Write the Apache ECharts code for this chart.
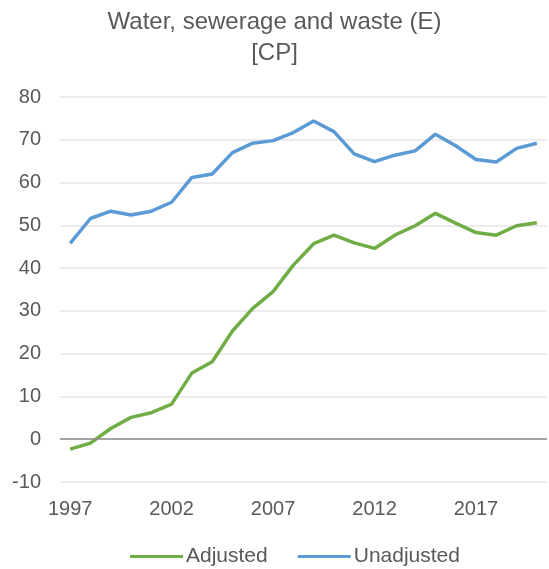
<!DOCTYPE html>
<html>
<head>
<meta charset="utf-8">
<script src="https://cdn.jsdelivr.net/npm/echarts@6/dist/echarts.min.js"></script>
<style>
  html, body { margin: 0; padding: 0; background: #fff; }
  #chart { width: 549px; height: 569px; }
</style>
</head>
<body>
<div id="chart"></div>
<script>
// years 1997..2020
const years = [];
for (let y = 1997; y <= 2020; y++) years.push(String(y));

const adjusted = [-2.3, -0.9, 2.5, 5.1, 6.2, 8.2, 15.5, 18.1, 25.3, 30.6, 34.5, 40.7,
  45.7, 47.7, 45.9, 44.6, 47.7, 49.9, 52.8, 50.5, 48.3, 47.7, 49.9, 50.6];
const unadjusted = [45.8, 51.6, 53.3, 52.4, 53.3, 55.4, 61.2, 62.0, 67.0, 69.2, 69.8, 71.7,
  74.4, 71.9, 66.7, 64.9, 66.4, 67.4, 71.3, 68.6, 65.4, 64.8, 68.0, 69.2];

const font = "Liberation Sans, Arial, sans-serif";
const textColor = "#595959";

const chart = echarts.init(document.getElementById("chart"));
chart.setOption({
  animation: false,
  title: {
    text: "Water, sewerage and waste (E)\n[CP]",
    left: "center",
    top: 2,
    textStyle: {
      fontFamily: font,
      fontSize: 24,
      fontWeight: "normal",
      color: textColor,
      lineHeight: 31,
    },
  },
  legend: {
    top: 541,
    left: 125,
    itemWidth: 53,
    itemHeight: 3,
    itemGap: 30,
    icon: "rect",
    textStyle: { fontFamily: font, fontSize: 21, color: textColor, padding: [0, 0, 0, -2] },
    data: ["Adjusted", "Unadjusted"],
  },
  grid: { left: 60, right: 2, top: 97, bottom: 87, containLabel: false },
  xAxis: {
    type: "category",
    data: years,
    boundaryGap: true,
    axisLine: { show: false },
    axisTick: { show: false },
    axisLabel: {
      interval: 4,
      margin: 17,
      fontFamily: font,
      fontSize: 20,
      color: textColor,
    },
    splitLine: { show: false },
  },
  yAxis: {
    type: "value",
    min: -10,
    max: 80,
    interval: 10,
    axisLine: { show: false },
    axisTick: { show: false },
    axisLabel: { margin: 19, fontFamily: font, fontSize: 20, color: textColor },
    splitLine: { lineStyle: { color: "#e6e6e6", width: 1.5 } },
  },
  series: [
    {
      name: "Adjusted",
      type: "line",
      data: adjusted,
      symbol: "none",
      color: "#70AD47",
      lineStyle: { width: 3.5, color: "#70AD47" },
      markLine: {
        silent: true,
        symbol: "none",
        label: { show: false },
        lineStyle: { color: "#8c8c8c", type: "solid", width: 1.5 },
        data: [{ yAxis: 0 }],
      },
      z: 3,
    },
    {
      name: "Unadjusted",
      type: "line",
      data: unadjusted,
      symbol: "none",
      color: "#5B9BD5",
      lineStyle: { width: 3.5, color: "#5B9BD5" },
      z: 3,
    },
  ],
});
</script>
</body>
</html>
